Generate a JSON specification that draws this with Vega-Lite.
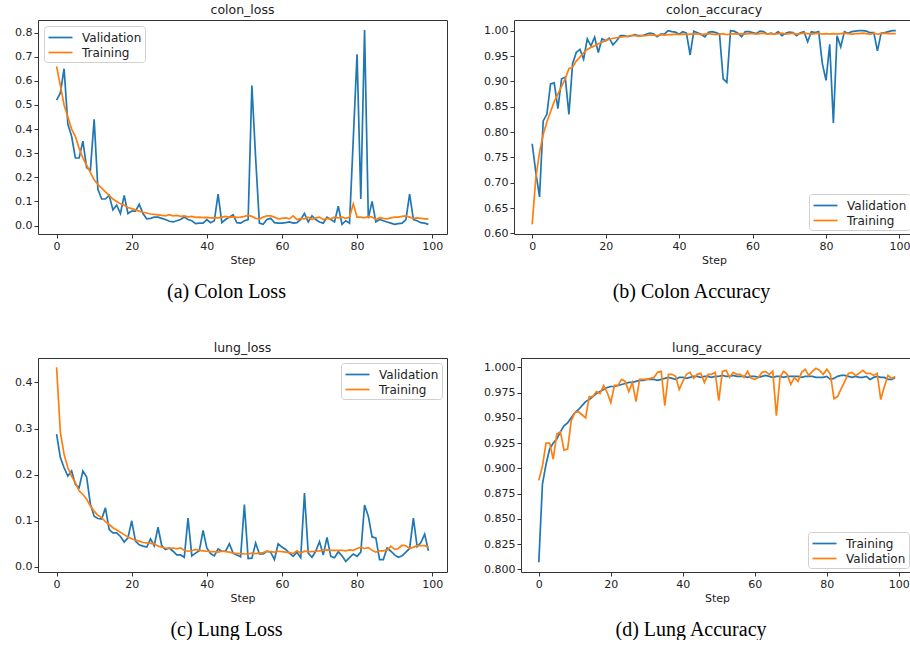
{
  "$schema": "https://vega.github.io/schema/vega-lite/v6.json",
  "background": "white",
  "padding": {"left": 5, "top": 3, "right": 0, "bottom": 0},
  "datasets": {
    "colon_loss": [
      {"step":0,"Validation":0.52,"Training":0.66},{"step":1,"Validation":0.55,"Training":0.58},{"step":2,"Validation":0.65,"Training":0.5},{"step":3,"Validation":0.42,"Training":0.45},{"step":4,"Validation":0.37,"Training":0.4},
      {"step":5,"Validation":0.28,"Training":0.37},{"step":6,"Validation":0.28,"Training":0.32},{"step":7,"Validation":0.35,"Training":0.28},{"step":8,"Validation":0.24,"Training":0.25},{"step":9,"Validation":0.23,"Training":0.22},
      {"step":10,"Validation":0.44,"Training":0.19},{"step":11,"Validation":0.15,"Training":0.17},{"step":12,"Validation":0.11,"Training":0.155},{"step":13,"Validation":0.11,"Training":0.14},{"step":14,"Validation":0.125,"Training":0.125},
      {"step":15,"Validation":0.065,"Training":0.11},{"step":16,"Validation":0.085,"Training":0.1},{"step":17,"Validation":0.05,"Training":0.09},{"step":18,"Validation":0.125,"Training":0.085},{"step":19,"Validation":0.05,"Training":0.075},
      {"step":20,"Validation":0.06,"Training":0.07},{"step":21,"Validation":0.06,"Training":0.065},{"step":22,"Validation":0.088,"Training":0.06},{"step":23,"Validation":0.05,"Training":0.055},{"step":24,"Validation":0.028,"Training":0.052},
      {"step":25,"Validation":0.03,"Training":0.048},{"step":26,"Validation":0.035,"Training":0.046},{"step":27,"Validation":0.035,"Training":0.044},{"step":28,"Validation":0.03,"Training":0.042},{"step":29,"Validation":0.025,"Training":0.04},
      {"step":30,"Validation":0.018,"Training":0.045},{"step":31,"Validation":0.015,"Training":0.04},{"step":32,"Validation":0.02,"Training":0.042},{"step":33,"Validation":0.025,"Training":0.038},{"step":34,"Validation":0.035,"Training":0.04},
      {"step":35,"Validation":0.025,"Training":0.036},{"step":36,"Validation":0.02,"Training":0.038},{"step":37,"Validation":0.008,"Training":0.034},{"step":38,"Validation":0.01,"Training":0.035},{"step":39,"Validation":0.01,"Training":0.033},
      {"step":40,"Validation":0.025,"Training":0.034},{"step":41,"Validation":0.012,"Training":0.032},{"step":42,"Validation":0.02,"Training":0.033},{"step":43,"Validation":0.13,"Training":0.032},{"step":44,"Validation":0.012,"Training":0.035},
      {"step":45,"Validation":0.025,"Training":0.038},{"step":46,"Validation":0.035,"Training":0.034},{"step":47,"Validation":0.045,"Training":0.036},{"step":48,"Validation":0.012,"Training":0.034},{"step":49,"Validation":0.01,"Training":0.035},
      {"step":50,"Validation":0.02,"Training":0.038},{"step":51,"Validation":0.025,"Training":0.042},{"step":52,"Validation":0.58,"Training":0.038},{"step":53,"Validation":0.28,"Training":0.03},{"step":54,"Validation":0.01,"Training":0.028},
      {"step":55,"Validation":0.005,"Training":0.035},{"step":56,"Validation":0.025,"Training":0.04},{"step":57,"Validation":0.03,"Training":0.04},{"step":58,"Validation":0.012,"Training":0.035},{"step":59,"Validation":0.01,"Training":0.028},
      {"step":60,"Validation":0.01,"Training":0.03},{"step":61,"Validation":0.012,"Training":0.032},{"step":62,"Validation":0.015,"Training":0.028},{"step":63,"Validation":0.01,"Training":0.04},{"step":64,"Validation":0.012,"Training":0.025},
      {"step":65,"Validation":0.025,"Training":0.03},{"step":66,"Validation":0.05,"Training":0.028},{"step":67,"Validation":0.015,"Training":0.035},{"step":68,"Validation":0.04,"Training":0.025},{"step":69,"Validation":0.025,"Training":0.032},
      {"step":70,"Validation":0.015,"Training":0.035},{"step":71,"Validation":0.01,"Training":0.025},{"step":72,"Validation":0.035,"Training":0.03},{"step":73,"Validation":0.025,"Training":0.028},{"step":74,"Validation":0.015,"Training":0.035},
      {"step":75,"Validation":0.08,"Training":0.032},{"step":76,"Validation":0.005,"Training":0.035},{"step":77,"Validation":0.02,"Training":0.03},{"step":78,"Validation":0.01,"Training":0.035},{"step":79,"Validation":0.36,"Training":0.09},
      {"step":80,"Validation":0.71,"Training":0.035},{"step":81,"Validation":0.11,"Training":0.035},{"step":82,"Validation":0.81,"Training":0.032},{"step":83,"Validation":0.03,"Training":0.038},{"step":84,"Validation":0.1,"Training":0.035},
      {"step":85,"Validation":0.015,"Training":0.025},{"step":86,"Validation":0.025,"Training":0.033},{"step":87,"Validation":0.02,"Training":0.03},{"step":88,"Validation":0.015,"Training":0.028},{"step":89,"Validation":0.01,"Training":0.032},
      {"step":90,"Validation":0.005,"Training":0.035},{"step":91,"Validation":0.008,"Training":0.035},{"step":92,"Validation":0.01,"Training":0.038},{"step":93,"Validation":0.025,"Training":0.04},{"step":94,"Validation":0.13,"Training":0.035},
      {"step":95,"Validation":0.025,"Training":0.03},{"step":96,"Validation":0.02,"Training":0.032},{"step":97,"Validation":0.012,"Training":0.03},{"step":98,"Validation":0.01,"Training":0.028},{"step":99,"Validation":0.005,"Training":0.028}
    ],
    "colon_accuracy": [
      {"step":0,"Validation":0.777,"Training":0.618},{"step":1,"Validation":0.72,"Training":0.71},{"step":2,"Validation":0.672,"Training":0.76},{"step":3,"Validation":0.822,"Training":0.795},{"step":4,"Validation":0.835,"Training":0.82},
      {"step":5,"Validation":0.895,"Training":0.84},{"step":6,"Validation":0.897,"Training":0.86},{"step":7,"Validation":0.846,"Training":0.875},{"step":8,"Validation":0.905,"Training":0.89},{"step":9,"Validation":0.908,"Training":0.905},
      {"step":10,"Validation":0.835,"Training":0.925},{"step":11,"Validation":0.935,"Training":0.928},{"step":12,"Validation":0.957,"Training":0.94},{"step":13,"Validation":0.963,"Training":0.948},{"step":14,"Validation":0.944,"Training":0.956},
      {"step":15,"Validation":0.984,"Training":0.963},{"step":16,"Validation":0.97,"Training":0.967},{"step":17,"Validation":0.987,"Training":0.97},{"step":18,"Validation":0.957,"Training":0.974},{"step":19,"Validation":0.984,"Training":0.977},
      {"step":20,"Validation":0.98,"Training":0.98},{"step":21,"Validation":0.985,"Training":0.983},{"step":22,"Validation":0.972,"Training":0.985},{"step":23,"Validation":0.98,"Training":0.986},{"step":24,"Validation":0.99,"Training":0.987},
      {"step":25,"Validation":0.99,"Training":0.988},{"step":26,"Validation":0.988,"Training":0.989},{"step":27,"Validation":0.99,"Training":0.99},{"step":28,"Validation":0.992,"Training":0.99},{"step":29,"Validation":0.99,"Training":0.989},
      {"step":30,"Validation":0.99,"Training":0.99},{"step":31,"Validation":0.993,"Training":0.99},{"step":32,"Validation":0.995,"Training":0.991},{"step":33,"Validation":0.994,"Training":0.991},{"step":34,"Validation":0.988,"Training":0.99},
      {"step":35,"Validation":0.993,"Training":0.992},{"step":36,"Validation":0.993,"Training":0.991},{"step":37,"Validation":1.0,"Training":0.992},{"step":38,"Validation":0.998,"Training":0.992},{"step":39,"Validation":0.997,"Training":0.993},
      {"step":40,"Validation":0.993,"Training":0.992},{"step":41,"Validation":0.998,"Training":0.993},{"step":42,"Validation":0.995,"Training":0.992},{"step":43,"Validation":0.952,"Training":0.993},{"step":44,"Validation":0.999,"Training":0.993},
      {"step":45,"Validation":0.996,"Training":0.994},{"step":46,"Validation":0.993,"Training":0.992},{"step":47,"Validation":0.988,"Training":0.993},{"step":48,"Validation":0.997,"Training":0.994},{"step":49,"Validation":0.998,"Training":0.993},
      {"step":50,"Validation":0.996,"Training":0.992},{"step":51,"Validation":0.993,"Training":0.993},{"step":52,"Validation":0.905,"Training":0.994},{"step":53,"Validation":0.898,"Training":0.992},{"step":54,"Validation":1.0,"Training":0.993},
      {"step":55,"Validation":0.999,"Training":0.994},{"step":56,"Validation":0.995,"Training":0.993},{"step":57,"Validation":0.988,"Training":0.994},{"step":58,"Validation":0.998,"Training":0.993},{"step":59,"Validation":0.998,"Training":0.994},
      {"step":60,"Validation":0.996,"Training":0.994},{"step":61,"Validation":0.994,"Training":0.993},{"step":62,"Validation":0.999,"Training":0.994},{"step":63,"Validation":0.998,"Training":0.995},{"step":64,"Validation":0.993,"Training":0.993},
      {"step":65,"Validation":0.995,"Training":0.994},{"step":66,"Validation":0.993,"Training":0.993},{"step":67,"Validation":0.998,"Training":0.994},{"step":68,"Validation":0.99,"Training":0.995},{"step":69,"Validation":0.995,"Training":0.993},
      {"step":70,"Validation":0.997,"Training":0.994},{"step":71,"Validation":0.996,"Training":0.995},{"step":72,"Validation":0.99,"Training":0.993},{"step":73,"Validation":0.996,"Training":0.994},{"step":74,"Validation":0.998,"Training":0.995},
      {"step":75,"Validation":0.978,"Training":0.994},{"step":76,"Validation":0.998,"Training":0.993},{"step":77,"Validation":0.996,"Training":0.994},{"step":78,"Validation":0.998,"Training":0.995},{"step":79,"Validation":0.935,"Training":0.993},
      {"step":80,"Validation":0.902,"Training":0.994},{"step":81,"Validation":0.973,"Training":0.993},{"step":82,"Validation":0.818,"Training":0.994},{"step":83,"Validation":0.99,"Training":0.993},{"step":84,"Validation":0.968,"Training":0.994},
      {"step":85,"Validation":0.998,"Training":0.995},{"step":86,"Validation":0.995,"Training":0.994},{"step":87,"Validation":0.998,"Training":0.993},{"step":88,"Validation":0.999,"Training":0.994},{"step":89,"Validation":1.0,"Training":0.994},
      {"step":90,"Validation":1.0,"Training":0.995},{"step":91,"Validation":0.999,"Training":0.994},{"step":92,"Validation":0.996,"Training":0.993},{"step":93,"Validation":0.996,"Training":0.995},{"step":94,"Validation":0.96,"Training":0.993},
      {"step":95,"Validation":0.995,"Training":0.994},{"step":96,"Validation":0.996,"Training":0.995},{"step":97,"Validation":0.998,"Training":0.994},{"step":98,"Validation":1.0,"Training":0.994},{"step":99,"Validation":1.0,"Training":0.994}
    ],
    "lung_loss": [
      {"step":0,"Validation":0.288,"Training":0.433},{"step":1,"Validation":0.237,"Training":0.292},{"step":2,"Validation":0.215,"Training":0.244},{"step":3,"Validation":0.197,"Training":0.215},{"step":4,"Validation":0.208,"Training":0.197},
      {"step":5,"Validation":0.179,"Training":0.183},{"step":6,"Validation":0.172,"Training":0.165},{"step":7,"Validation":0.208,"Training":0.157},{"step":8,"Validation":0.195,"Training":0.147},{"step":9,"Validation":0.136,"Training":0.132},
      {"step":10,"Validation":0.11,"Training":0.121},{"step":11,"Validation":0.105,"Training":0.112},{"step":12,"Validation":0.104,"Training":0.107},{"step":13,"Validation":0.128,"Training":0.098},{"step":14,"Validation":0.081,"Training":0.092},
      {"step":15,"Validation":0.074,"Training":0.085},{"step":16,"Validation":0.074,"Training":0.08},{"step":17,"Validation":0.066,"Training":0.075},{"step":18,"Validation":0.054,"Training":0.07},{"step":19,"Validation":0.063,"Training":0.065},
      {"step":20,"Validation":0.1,"Training":0.061},{"step":21,"Validation":0.056,"Training":0.058},{"step":22,"Validation":0.048,"Training":0.056},{"step":23,"Validation":0.045,"Training":0.053},{"step":24,"Validation":0.043,"Training":0.052},
      {"step":25,"Validation":0.061,"Training":0.051},{"step":26,"Validation":0.046,"Training":0.05},{"step":27,"Validation":0.086,"Training":0.045},{"step":28,"Validation":0.046,"Training":0.043},{"step":29,"Validation":0.038,"Training":0.041},
      {"step":30,"Validation":0.041,"Training":0.04},{"step":31,"Validation":0.034,"Training":0.041},{"step":32,"Validation":0.026,"Training":0.039},{"step":33,"Validation":0.026,"Training":0.041},{"step":34,"Validation":0.021,"Training":0.036},
      {"step":35,"Validation":0.106,"Training":0.034},{"step":36,"Validation":0.024,"Training":0.035},{"step":37,"Validation":0.03,"Training":0.038},{"step":38,"Validation":0.035,"Training":0.036},{"step":39,"Validation":0.079,"Training":0.035},
      {"step":40,"Validation":0.041,"Training":0.034},{"step":41,"Validation":0.029,"Training":0.033},{"step":42,"Validation":0.024,"Training":0.033},{"step":43,"Validation":0.039,"Training":0.032},{"step":44,"Validation":0.034,"Training":0.034},
      {"step":45,"Validation":0.034,"Training":0.033},{"step":46,"Validation":0.05,"Training":0.032},{"step":47,"Validation":0.03,"Training":0.03},{"step":48,"Validation":0.026,"Training":0.029},{"step":49,"Validation":0.022,"Training":0.029},
      {"step":50,"Validation":0.135,"Training":0.028},{"step":51,"Validation":0.018,"Training":0.028},{"step":52,"Validation":0.019,"Training":0.03},{"step":53,"Validation":0.052,"Training":0.029},{"step":54,"Validation":0.028,"Training":0.03},
      {"step":55,"Validation":0.028,"Training":0.031},{"step":56,"Validation":0.034,"Training":0.034},{"step":57,"Validation":0.032,"Training":0.033},{"step":58,"Validation":0.016,"Training":0.032},{"step":59,"Validation":0.05,"Training":0.034},
      {"step":60,"Validation":0.043,"Training":0.033},{"step":61,"Validation":0.038,"Training":0.032},{"step":62,"Validation":0.03,"Training":0.031},{"step":63,"Validation":0.023,"Training":0.029},{"step":64,"Validation":0.032,"Training":0.035},
      {"step":65,"Validation":0.02,"Training":0.03},{"step":66,"Validation":0.16,"Training":0.034},{"step":67,"Validation":0.03,"Training":0.033},{"step":68,"Validation":0.021,"Training":0.033},{"step":69,"Validation":0.034,"Training":0.034},
      {"step":70,"Validation":0.055,"Training":0.035},{"step":71,"Validation":0.026,"Training":0.036},{"step":72,"Validation":0.064,"Training":0.037},{"step":73,"Validation":0.023,"Training":0.036},{"step":74,"Validation":0.02,"Training":0.036},
      {"step":75,"Validation":0.033,"Training":0.036},{"step":76,"Validation":0.024,"Training":0.036},{"step":77,"Validation":0.012,"Training":0.035},{"step":78,"Validation":0.02,"Training":0.037},{"step":79,"Validation":0.028,"Training":0.036},
      {"step":80,"Validation":0.023,"Training":0.04},{"step":81,"Validation":0.032,"Training":0.043},{"step":82,"Validation":0.134,"Training":0.04},{"step":83,"Validation":0.11,"Training":0.042},{"step":84,"Validation":0.065,"Training":0.036},
      {"step":85,"Validation":0.063,"Training":0.032},{"step":86,"Validation":0.016,"Training":0.035},{"step":87,"Validation":0.016,"Training":0.035},{"step":88,"Validation":0.041,"Training":0.037},{"step":89,"Validation":0.034,"Training":0.045},
      {"step":90,"Validation":0.026,"Training":0.038},{"step":91,"Validation":0.021,"Training":0.04},{"step":92,"Validation":0.024,"Training":0.047},{"step":93,"Validation":0.032,"Training":0.046},{"step":94,"Validation":0.04,"Training":0.04},
      {"step":95,"Validation":0.106,"Training":0.043},{"step":96,"Validation":0.044,"Training":0.046},{"step":97,"Validation":0.053,"Training":0.046},{"step":98,"Validation":0.071,"Training":0.046},{"step":99,"Validation":0.035,"Training":0.043}
    ],
    "lung_accuracy": [
      {"step":0,"Training":0.807,"Validation":0.888},{"step":1,"Training":0.884,"Validation":0.902},{"step":2,"Training":0.904,"Validation":0.925},{"step":3,"Training":0.919,"Validation":0.925},{"step":4,"Training":0.925,"Validation":0.909},
      {"step":5,"Training":0.929,"Validation":0.934},{"step":6,"Training":0.936,"Validation":0.936},{"step":7,"Training":0.942,"Validation":0.918},{"step":8,"Training":0.945,"Validation":0.919},{"step":9,"Training":0.95,"Validation":0.947},
      {"step":10,"Training":0.955,"Validation":0.955},{"step":11,"Training":0.958,"Validation":0.956},{"step":12,"Training":0.962,"Validation":0.953},{"step":13,"Training":0.966,"Validation":0.95},{"step":14,"Training":0.968,"Validation":0.971},
      {"step":15,"Training":0.971,"Validation":0.971},{"step":16,"Training":0.974,"Validation":0.976},{"step":17,"Training":0.976,"Validation":0.974},{"step":18,"Training":0.978,"Validation":0.982},{"step":19,"Training":0.98,"Validation":0.975},
      {"step":20,"Training":0.981,"Validation":0.965},{"step":21,"Training":0.981,"Validation":0.982},{"step":22,"Training":0.982,"Validation":0.982},{"step":23,"Training":0.983,"Validation":0.988},{"step":24,"Training":0.984,"Validation":0.986},
      {"step":25,"Training":0.985,"Validation":0.976},{"step":26,"Training":0.985,"Validation":0.985},{"step":27,"Training":0.986,"Validation":0.966},{"step":28,"Training":0.987,"Validation":0.988},{"step":29,"Training":0.987,"Validation":0.988},
      {"step":30,"Training":0.988,"Validation":0.988},{"step":31,"Training":0.988,"Validation":0.989},{"step":32,"Training":0.988,"Validation":0.99},{"step":33,"Training":0.987,"Validation":0.995},{"step":34,"Training":0.988,"Validation":0.996},
      {"step":35,"Training":0.989,"Validation":0.962},{"step":36,"Training":0.99,"Validation":0.993},{"step":37,"Training":0.989,"Validation":0.993},{"step":38,"Training":0.988,"Validation":0.991},{"step":39,"Training":0.99,"Validation":0.978},
      {"step":40,"Training":0.99,"Validation":0.986},{"step":41,"Training":0.989,"Validation":0.993},{"step":42,"Training":0.99,"Validation":0.995},{"step":43,"Training":0.991,"Validation":0.989},{"step":44,"Training":0.991,"Validation":0.993},
      {"step":45,"Training":0.99,"Validation":0.994},{"step":46,"Training":0.991,"Validation":0.985},{"step":47,"Training":0.991,"Validation":0.993},{"step":48,"Training":0.99,"Validation":0.993},{"step":49,"Training":0.991,"Validation":0.995},
      {"step":50,"Training":0.991,"Validation":0.967},{"step":51,"Training":0.992,"Validation":0.996},{"step":52,"Training":0.991,"Validation":0.997},{"step":53,"Training":0.991,"Validation":0.99},{"step":54,"Training":0.992,"Validation":0.995},
      {"step":55,"Training":0.991,"Validation":0.993},{"step":56,"Training":0.991,"Validation":0.993},{"step":57,"Training":0.991,"Validation":0.99},{"step":58,"Training":0.99,"Validation":0.996},{"step":59,"Training":0.991,"Validation":0.989},
      {"step":60,"Training":0.991,"Validation":0.988},{"step":61,"Training":0.99,"Validation":0.99},{"step":62,"Training":0.991,"Validation":0.995},{"step":63,"Training":0.992,"Validation":0.996},{"step":64,"Training":0.991,"Validation":0.993},
      {"step":65,"Training":0.99,"Validation":0.996},{"step":66,"Training":0.991,"Validation":0.952},{"step":67,"Training":0.991,"Validation":0.99},{"step":68,"Training":0.99,"Validation":0.996},{"step":69,"Training":0.991,"Validation":0.993},
      {"step":70,"Training":0.991,"Validation":0.983},{"step":71,"Training":0.991,"Validation":0.99},{"step":72,"Training":0.991,"Validation":0.986},{"step":73,"Training":0.99,"Validation":0.995},{"step":74,"Training":0.991,"Validation":0.998},
      {"step":75,"Training":0.991,"Validation":0.992},{"step":76,"Training":0.991,"Validation":0.996},{"step":77,"Training":0.99,"Validation":0.999},{"step":78,"Training":0.99,"Validation":0.997},{"step":79,"Training":0.99,"Validation":0.993},
      {"step":80,"Training":0.991,"Validation":0.998},{"step":81,"Training":0.988,"Validation":0.993},{"step":82,"Training":0.989,"Validation":0.969},{"step":83,"Training":0.991,"Validation":0.971},{"step":84,"Training":0.992,"Validation":0.979},
      {"step":85,"Training":0.992,"Validation":0.986},{"step":86,"Training":0.991,"Validation":0.994},{"step":87,"Training":0.99,"Validation":0.995},{"step":88,"Training":0.991,"Validation":0.992},{"step":89,"Training":0.99,"Validation":0.994},
      {"step":90,"Training":0.99,"Validation":0.997},{"step":91,"Training":0.991,"Validation":0.994},{"step":92,"Training":0.988,"Validation":0.994},{"step":93,"Training":0.99,"Validation":0.992},{"step":94,"Training":0.991,"Validation":0.994},
      {"step":95,"Training":0.99,"Validation":0.968},{"step":96,"Training":0.99,"Validation":0.981},{"step":97,"Training":0.988,"Validation":0.992},{"step":98,"Training":0.988,"Validation":0.989},{"step":99,"Training":0.99,"Validation":0.991}
    ]
  },
  "spacing": 39,
  "resolve": {"scale": {"color": "independent"}, "legend": {"color": "independent"}},
  "vconcat": [
    {
      "spacing": 20,
      "resolve": {"scale": {"color": "independent"}, "legend": {"color": "independent"}},
      "hconcat": [
        {
          "title": {"text": "(a) Colon Loss", "orient": "bottom", "anchor": "middle", "font": "Liberation Serif", "fontSize": 20, "fontWeight": "normal", "color": "black", "offset": 16},
          "resolve": {"scale": {"color": "independent"}, "legend": {"color": "independent"}},
          "vconcat": [
            {
              "width": 409, "height": 214,
              "title": {"text": "colon_loss"},
              "data": {"name": "colon_loss"},
              "encoding": {"x": {"field": "step", "type": "quantitative", "scale": {"domain": [-4.95, 103.95], "nice": false, "zero": false}, "axis": {"values": [0, 20, 40, 60, 80, 100], "title": "Step"}}},
              "layer": [
                {"mark": {"type": "line", "strokeWidth": 1.7}, "encoding": {
                  "y": {"field": "Validation", "type": "quantitative", "scale": {"domain": [-0.035, 0.852], "nice": false, "zero": false}, "axis": {"title": null, "values": [0, 0.1, 0.2, 0.3, 0.4, 0.5, 0.6, 0.7, 0.8], "format": ".1f", "minExtent": 32, "maxExtent": 32}},
                  "color": {"datum": "Validation", "type": "nominal", "title": null, "scale": {"domain": ["Validation", "Training"], "range": ["#1f77b4", "#ff7f0e"]}, "legend": {"orient": "top-left"}}}},
                {"mark": {"type": "line", "strokeWidth": 1.7}, "encoding": {
                  "y": {"field": "Training", "type": "quantitative", "scale": {"domain": [-0.035, 0.852], "nice": false, "zero": false}, "axis": {"title": null, "values": [0, 0.1, 0.2, 0.3, 0.4, 0.5, 0.6, 0.7, 0.8], "format": ".1f", "minExtent": 32, "maxExtent": 32}},
                  "color": {"datum": "Training", "type": "nominal"}}}
              ]
            }
          ]
        },
        {
          "title": {"text": "(b) Colon Accuracy", "orient": "bottom", "anchor": "middle", "font": "Liberation Serif", "fontSize": 20, "fontWeight": "normal", "color": "black", "offset": 16},
          "resolve": {"scale": {"color": "independent"}, "legend": {"color": "independent"}},
          "vconcat": [
            {
              "width": 400, "height": 214,
              "title": {"text": "colon_accuracy"},
              "data": {"name": "colon_accuracy"},
              "encoding": {"x": {"field": "step", "type": "quantitative", "scale": {"domain": [-4.95, 103.95], "nice": false, "zero": false}, "axis": {"values": [0, 20, 40, 60, 80, 100], "title": "Step"}}},
              "layer": [
                {"mark": {"type": "line", "strokeWidth": 1.7}, "encoding": {
                  "y": {"field": "Validation", "type": "quantitative", "scale": {"domain": [0.599, 1.021], "nice": false, "zero": false}, "axis": {"title": null, "values": [0.6, 0.65, 0.7, 0.75, 0.8, 0.85, 0.9, 0.95, 1.0], "format": ".2f", "minExtent": 45, "maxExtent": 45}},
                  "color": {"datum": "Validation", "type": "nominal", "title": null, "scale": {"domain": ["Validation", "Training"], "range": ["#1f77b4", "#ff7f0e"]}, "legend": {"orient": "bottom-right", "offset": 4}}}},
                {"mark": {"type": "line", "strokeWidth": 1.7}, "encoding": {
                  "y": {"field": "Training", "type": "quantitative", "scale": {"domain": [0.599, 1.021], "nice": false, "zero": false}, "axis": {"title": null, "values": [0.6, 0.65, 0.7, 0.75, 0.8, 0.85, 0.9, 0.95, 1.0], "format": ".2f", "minExtent": 45, "maxExtent": 45}},
                  "color": {"datum": "Training", "type": "nominal"}}}
              ]
            }
          ]
        }
      ]
    },
    {
      "spacing": 20,
      "resolve": {"scale": {"color": "independent"}, "legend": {"color": "independent"}},
      "hconcat": [
        {
          "title": {"text": "(c) Lung Loss", "orient": "bottom", "anchor": "middle", "font": "Liberation Serif", "fontSize": 20, "fontWeight": "normal", "color": "black", "offset": 16},
          "resolve": {"scale": {"color": "independent"}, "legend": {"color": "independent"}},
          "vconcat": [
            {
              "width": 409, "height": 214,
              "title": {"text": "lung_loss"},
              "data": {"name": "lung_loss"},
              "encoding": {"x": {"field": "step", "type": "quantitative", "scale": {"domain": [-4.95, 103.95], "nice": false, "zero": false}, "axis": {"values": [0, 20, 40, 60, 80, 100], "title": "Step"}}},
              "layer": [
                {"mark": {"type": "line", "strokeWidth": 1.7}, "encoding": {
                  "y": {"field": "Validation", "type": "quantitative", "scale": {"domain": [-0.011, 0.453], "nice": false, "zero": false}, "axis": {"title": null, "values": [0, 0.1, 0.2, 0.3, 0.4], "format": ".1f", "minExtent": 32, "maxExtent": 32}},
                  "color": {"datum": "Validation", "type": "nominal", "title": null, "scale": {"domain": ["Validation", "Training"], "range": ["#1f77b4", "#ff7f0e"]}, "legend": {"orient": "top-right", "offset": 5}}}},
                {"mark": {"type": "line", "strokeWidth": 1.7}, "encoding": {
                  "y": {"field": "Training", "type": "quantitative", "scale": {"domain": [-0.011, 0.453], "nice": false, "zero": false}, "axis": {"title": null, "values": [0, 0.1, 0.2, 0.3, 0.4], "format": ".1f", "minExtent": 32, "maxExtent": 32}},
                  "color": {"datum": "Training", "type": "nominal"}}}
              ]
            }
          ]
        },
        {
          "title": {"text": "(d) Lung Accuracy", "orient": "bottom", "anchor": "middle", "font": "Liberation Serif", "fontSize": 20, "fontWeight": "normal", "color": "black", "offset": 16},
          "resolve": {"scale": {"color": "independent"}, "legend": {"color": "independent"}},
          "vconcat": [
            {
              "width": 392, "height": 214,
              "title": {"text": "lung_accuracy"},
              "data": {"name": "lung_accuracy"},
              "encoding": {"x": {"field": "step", "type": "quantitative", "scale": {"domain": [-4.95, 103.95], "nice": false, "zero": false}, "axis": {"values": [0, 20, 40, 60, 80, 100], "title": "Step"}}},
              "layer": [
                {"mark": {"type": "line", "strokeWidth": 1.7}, "encoding": {
                  "y": {"field": "Training", "type": "quantitative", "scale": {"domain": [0.7973, 1.0092], "nice": false, "zero": false}, "axis": {"title": null, "values": [0.8, 0.825, 0.85, 0.875, 0.9, 0.925, 0.95, 0.975, 1.0], "format": ".3f", "minExtent": 52, "maxExtent": 52}},
                  "color": {"datum": "Training", "type": "nominal", "title": null, "scale": {"domain": ["Training", "Validation"], "range": ["#1f77b4", "#ff7f0e"]}, "legend": {"orient": "bottom-right", "offset": 4}}}},
                {"mark": {"type": "line", "strokeWidth": 1.7}, "encoding": {
                  "y": {"field": "Validation", "type": "quantitative", "scale": {"domain": [0.7973, 1.0092], "nice": false, "zero": false}, "axis": {"title": null, "values": [0.8, 0.825, 0.85, 0.875, 0.9, 0.925, 0.95, 0.975, 1.0], "format": ".3f", "minExtent": 52, "maxExtent": 52}},
                  "color": {"datum": "Validation", "type": "nominal"}}}
              ]
            }
          ]
        }
      ]
    }
  ],
  "config": {
    "font": "DejaVu Sans",
    "view": {"stroke": "#333333", "strokeWidth": 1},
    "axis": {"grid": false, "domain": false, "labelOverlap": false, "tickColor": "#333333", "tickSize": 4, "labelFont": "DejaVu Sans", "labelFontSize": 11, "labelColor": "#222222", "labelPadding": 2, "titleFont": "DejaVu Sans", "titleFontSize": 11, "titleFontWeight": "normal", "titleColor": "#222222", "titlePadding": 3},
    "title": {"font": "DejaVu Sans", "fontSize": 12.5, "fontWeight": "normal", "color": "#222222", "offset": 4},
    "legend": {"symbolType": "M-1.6,0H1.6", "symbolStrokeWidth": 1.7, "symbolSize": 225, "symbolOffset": 5, "labelFont": "DejaVu Sans", "labelFontSize": 12, "labelColor": "#222222", "fillColor": "white", "strokeColor": "#d0d0d0", "cornerRadius": 3, "padding": 3, "offset": 6, "rowPadding": 0, "labelOffset": 13}
  }
}
